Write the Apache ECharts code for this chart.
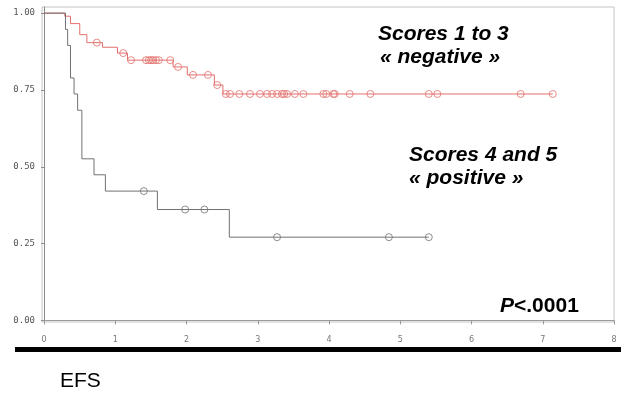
<!DOCTYPE html>
<html>
<head>
<meta charset="utf-8">
<script src="https://cdn.jsdelivr.net/npm/echarts@6/dist/echarts.min.js"></script>
<style>
  html, body { margin: 0; padding: 0; background: #fff; }
  #chart { width: 621px; height: 395px; }
</style>
</head>
<body>
<div id="chart"></div>
<script>
// Kaplan-Meier event-free survival, two groups (years on x axis)
const negStepTimes = [0, 0.29, 0.37, 0.50, 0.60, 0.82, 1.03, 1.17, 1.81, 2.01, 2.39, 2.51];
const negStepSurv  = [1.0, 0.990, 0.966, 0.930, 0.904, 0.889, 0.870, 0.847, 0.825, 0.799, 0.766, 0.737];
const negCensored  = [0.74, 1.11, 1.22, 1.43, 1.47, 1.50, 1.53, 1.57, 1.61, 1.77, 1.88, 2.09, 2.30, 2.43,
                      2.55, 2.61, 2.74, 2.89, 3.03, 3.13, 3.20, 3.27, 3.34, 3.37, 3.41, 3.52, 3.64,
                      3.92, 3.96, 4.06, 4.08, 4.29, 4.58, 5.40, 5.52, 6.69, 7.14];

const posStepTimes = [0, 0.30, 0.33, 0.37, 0.42, 0.47, 0.53, 0.70, 0.86, 1.59, 2.60];
const posStepSurv  = [1.0, 0.947, 0.895, 0.789, 0.737, 0.684, 0.526, 0.474, 0.421, 0.361, 0.271];
const posCensored  = [1.40, 1.98, 2.25, 3.27, 4.84, 5.40];

const xTicks = [0, 1, 2, 3, 4, 5, 6, 7, 8];
const yTicks = [0, 0.25, 0.5, 0.75, 1.0];

const negColor = '#e2706c';
const posColor = '#727272';

// survival value held at time t by a step curve
function survAt(times, surv, t) {
  let v = surv[0];
  for (let i = 0; i < times.length; i++) {
    if (times[i] <= t) v = surv[i];
  }
  return v;
}

function stepLine(times, surv, censored) {
  const pts = times.map((t, i) => [t, surv[i]]);
  const end = Math.max(...censored);
  pts.push([end, survAt(times, surv, end)]);
  return pts;
}

function censorPoints(times, surv, censored) {
  return censored.map(t => [t, survAt(times, surv, t)]);
}

const chart = echarts.init(document.getElementById('chart'), null, { renderer: 'canvas' });

const textBold = {
  fontFamily: 'Liberation Sans, Arial, sans-serif',
  fontSize: 21,
  fontWeight: 'bold',
  fontStyle: 'italic',
  fill: '#000'
};

chart.setOption({
  animation: false,
  backgroundColor: '#fff',
  grid: {
    left: 42, right: 7, top: 7, bottom: 73,
    show: true, borderColor: '#c4c4c4', borderWidth: 1
  },
  xAxis: {
    type: 'value',
    min: -0.03, max: 8,
    splitLine: { show: false },
    axisLine: { show: true, lineStyle: { color: '#9a9a9a', width: 1 } },
    axisTick: { show: true, length: 4, customValues: xTicks, lineStyle: { color: '#9a9a9a' } },
    axisLabel: {
      customValues: xTicks,
      margin: 14,
      color: '#777',
      fontSize: 8,
      fontFamily: 'DejaVu Sans, sans-serif'
    }
  },
  yAxis: {
    type: 'value',
    min: -0.005, max: 1.02,
    splitLine: { show: false },
    axisLine: { show: true, lineStyle: { color: '#8a8a8a', width: 1 } },
    axisTick: { show: true, length: 3, customValues: yTicks, lineStyle: { color: '#8a8a8a' } },
    axisLabel: {
      customValues: yTicks,
      margin: 7,
      color: '#555',
      fontSize: 9,
      fontFamily: 'DejaVu Sans Mono, monospace',
      formatter: v => v.toFixed(2)
    }
  },
  series: [
    {
      type: 'line', step: 'end', symbol: 'none',
      data: stepLine(negStepTimes, negStepSurv, negCensored),
      lineStyle: { color: negColor, width: 1 }
    },
    {
      type: 'line', step: 'end', symbol: 'none',
      data: stepLine(posStepTimes, posStepSurv, posCensored),
      lineStyle: { color: posColor, width: 1 }
    },
    {
      type: 'scatter', symbol: 'circle', symbolSize: 7,
      data: censorPoints(negStepTimes, negStepSurv, negCensored),
      itemStyle: { color: 'rgba(255,255,255,0)', borderColor: negColor, borderWidth: 1 }
    },
    {
      type: 'scatter', symbol: 'circle', symbolSize: 7,
      data: censorPoints(posStepTimes, posStepSurv, posCensored),
      itemStyle: { color: 'rgba(255,255,255,0)', borderColor: posColor, borderWidth: 1 }
    }
  ],
  graphic: [
    { type: 'text', left: 378, top: 24, style: Object.assign({ text: 'Scores 1 to 3' }, textBold) },
    { type: 'text', left: 380, top: 47, style: Object.assign({ text: '« negative »' }, textBold) },
    { type: 'text', left: 409, top: 145, style: Object.assign({ text: 'Scores 4 and 5' }, textBold) },
    { type: 'text', left: 409, top: 168, style: Object.assign({ text: '« positive »' }, textBold) },
    {
      type: 'text', left: 500, top: 296,
      style: {
        text: '{p|P}{r|<.0001}',
        rich: {
          p: { fontFamily: 'Liberation Sans, Arial, sans-serif', fontSize: 21, fontWeight: 'bold', fontStyle: 'italic', fill: '#000' },
          r: { fontFamily: 'Liberation Sans, Arial, sans-serif', fontSize: 21, fontWeight: 'bold', fill: '#000' }
        }
      }
    },
    { type: 'rect', left: 15, top: 347, shape: { width: 606, height: 5 }, style: { fill: '#000' } },
    {
      type: 'text', left: 60, top: 371,
      style: { text: 'EFS', fontFamily: 'Liberation Sans, Arial, sans-serif', fontSize: 21, fill: '#000' }
    }
  ]
});
</script>
</body>
</html>
